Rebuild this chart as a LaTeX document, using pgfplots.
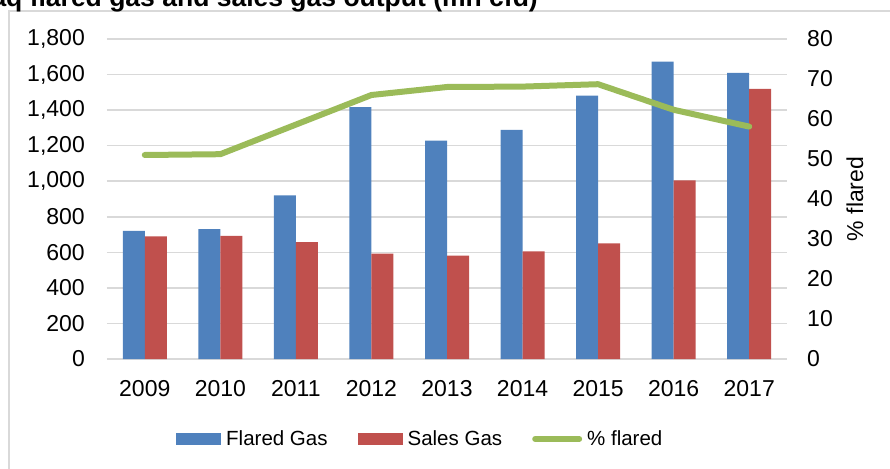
\documentclass[border=0pt]{standalone}
\usepackage{fontspec}
\setmainfont{Liberation Sans}
\usepackage{pgfplots}
\usepackage{pgfplotstable}
\pgfplotsset{compat=1.18}

\definecolor{fgblue}{RGB}{79,129,189}
\definecolor{sgred}{RGB}{192,80,77}
\definecolor{pgreen}{RGB}{155,187,89}
\definecolor{gridgray}{RGB}{217,217,217}

% Iraq gas output, mn cfd; pct = share flared
\pgfplotstableread{
x year flared sales pct
0 2009 720 690 51.0
1 2010 730 692 51.2
2 2011 920 657 58.6
3 2012 1417 593 66.0
4 2013 1228 581 68.0
5 2014 1289 606 68.1
6 2015 1481 651 68.7
7 2016 1673 1005 62.3
8 2017 1609 1519 58.1
}\gasdata

\begin{document}
\begin{tikzpicture}
\useasboundingbox (-107pt,-109pt) rectangle (783pt,359pt);
\clip (-107pt,-109pt) rectangle (783pt,359pt);
\draw[gridgray, line width=1.5pt] (-98pt,-130pt) -- (-98pt,348pt) -- (800pt,348pt);
\node[anchor=base east, inner sep=0pt, font=\bfseries\fontsize{26.5}{30}\selectfont]
  at (431pt,352pt) {Iraq flared gas and sales gas output (mn cfd)};

\begin{axis}[
    at={(0pt,0pt)}, anchor=south west,
    scale only axis, width=680pt, height=320pt,
    xmin=-0.5, xmax=8.5, ymin=0, ymax=1800,
    ybar=0pt, bar width=22pt,
    axis x line*=bottom, axis y line*=left,
    x axis line style={gridgray, line width=2pt},
    y axis line style={draw=none},
    major tick length=0pt,
    xtick={0,...,8},
    xticklabels={2009,2010,2011,2012,2013,2014,2015,2016,2017},
    ytick={0,200,...,1800},
    ymajorgrids, grid style={gridgray, line width=1.5pt},
    /pgf/number format/assume math mode=true,
    /pgf/number format/1000 sep={,},
    tick label style={font=\fontsize{23}{27}\selectfont},
    yticklabel style={anchor=east, inner sep=0pt, xshift=-22pt},
    xticklabel style={anchor=north, inner sep=0pt, yshift=-21pt},
    legend columns=3,
    legend style={draw=none, fill=none, inner sep=0pt,
      at={(axis description cs:0.1015,-0.25)}, anchor=west,
      font=\fontsize{20.5}{24}\selectfont,
      nodes={inner sep=0pt},
      /tikz/every odd column/.append style={column sep=5pt},
      /tikz/every even column/.append style={column sep=30pt}},
]
\addplot[fill=fgblue, draw=none,
  legend image code/.code={\fill[fgblue] (0pt,-6pt) rectangle (45pt,6pt);}]
  table[x=x, y=flared]{\gasdata};
\addlegendentry{Flared Gas}
\addplot[fill=sgred, draw=none,
  legend image code/.code={\fill[sgred] (0pt,-6pt) rectangle (45pt,6pt);}]
  table[x=x, y=sales]{\gasdata};
\addlegendentry{Sales Gas}
\addlegendimage{legend image code/.code={\draw[pgreen, line width=6pt, line cap=round] (3pt,0pt) -- (47pt,0pt);}}
\addlegendentry{\% flared}
\end{axis}

\begin{axis}[
    at={(0pt,0pt)}, anchor=south west,
    scale only axis, width=680pt, height=320pt,
    xmin=-0.5, xmax=8.5, ymin=0, ymax=80,
    axis x line=none, axis y line*=right,
    y axis line style={draw=none},
    major tick length=0pt,
    ytick={0,10,...,80},
    /pgf/number format/assume math mode=true,
    tick label style={font=\fontsize{23}{27}\selectfont},
    yticklabel style={anchor=west, inner sep=0pt, xshift=20pt},
    ylabel={\% flared},
    every axis y label/.style={at={(axis description cs:1.1,0.5)},
      anchor=center, rotate=90, font=\fontsize{23}{27}\selectfont},
]
\addplot[pgreen, line width=6pt, line cap=round, line join=round, mark=none]
  table[x=x, y=pct]{\gasdata};
\end{axis}
\end{tikzpicture}
\end{document}
